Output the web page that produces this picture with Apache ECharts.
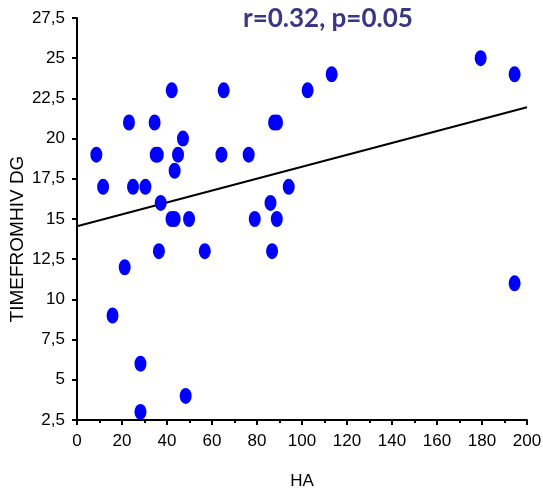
<!DOCTYPE html>
<html>
<head>
<meta charset="utf-8">
<script src="https://cdn.jsdelivr.net/npm/echarts@6/dist/echarts.min.js"></script>
<style>
  html, body { margin: 0; padding: 0; background: #fff; }
  #chart { width: 543px; height: 494px; }
</style>
</head>
<body>
<div id="chart"></div>
<script>
// HA (x) and time from HIV diagnosis (y)
const haValues = [8.6, 11.6, 15.8, 21.2, 23.1, 24.9, 28.2, 28.2, 30.4, 34.5, 35, 35.9, 36.4, 37.2,
  42.1, 42, 43.4, 43.4, 44.9, 47.1, 48.3, 49.8, 56.8, 64.2, 65.2, 76.3, 79, 86, 86.7, 87.6,
  88.9, 88.8, 94.1, 102.5, 113.2, 179.4, 194.5, 194.5]
const timeValues = [19, 17, 9, 12, 21, 17, 6, 3, 17, 21, 19, 19, 13, 16,
  23, 15, 15, 18, 19, 20, 4, 15, 13, 19, 23, 19, 15, 16, 13, 21,
  21, 15, 17, 23, 24, 25, 24, 11]

// fitted line, ends
const fitX = [0, 200]
const fitY = [14.55, 21.95]

const yTicks = { min: 2.5, max: 27.5, step: 2.5 }
const xTicks = { min: 0, max: 200, step: 20 }

const myChart = echarts.init(document.getElementById('chart'))

const points = haValues.map((x, i) => [x, timeValues[i]])
const fitLine = fitX.map((x, i) => [x, fitY[i]])

const labelFont = {
  fontFamily: 'Liberation Sans',
  fontSize: 17,
  color: '#000'
}

const option = {
  animation: false,
  title: {
    text: 'r=0.32, p=0.05',
    left: 238,
    top: 4,
    padding: [2, 5, 5, 5],
    textStyle: {
      fontFamily: 'Lato',
      fontWeight: 'bold',
      fontSize: 26,
      color: '#3b3785'
    }
  },
  grid: {
    left: 77,
    right: 16,
    top: 18,
    bottom: 74,
    containLabel: false,
    outerBoundsMode: 'none'
  },
  xAxis: {
    type: 'value',
    min: xTicks.min,
    max: xTicks.max,
    interval: xTicks.step,
    name: 'HA',
    nameLocation: 'middle',
    nameGap: 53,
    nameMoveOverlap: false,
    nameTextStyle: labelFont,
    axisLine: { show: true, lineStyle: { color: '#000', width: 2 } },
    axisTick: { show: true, length: 5, lineStyle: { color: '#000', width: 2 } },
    minorTick: { show: true, splitNumber: 2, length: 3, lineStyle: { color: '#000', width: 2 } },
    splitLine: { show: false },
    axisLabel: Object.assign({ margin: 13 }, labelFont)
  },
  yAxis: {
    type: 'value',
    min: yTicks.min,
    max: yTicks.max,
    interval: yTicks.step,
    name: 'TIMEFROMHIV DG',
    nameLocation: 'middle',
    nameGap: 50,
    nameMoveOverlap: false,
    nameTextStyle: {
      fontFamily: 'Liberation Sans',
      fontSize: 19,
      color: '#000',
      padding: [0, 40, 0, 0]
    },
    axisLine: { show: true, lineStyle: { color: '#000', width: 2 } },
    axisTick: { show: true, length: 5, lineStyle: { color: '#000', width: 2 } },
    splitLine: { show: false },
    axisLabel: Object.assign({
      margin: 12,
      formatter: v => String(v).replace('.', ',')
    }, labelFont)
  },
  series: [
    {
      type: 'line',
      data: fitLine,
      showSymbol: false,
      silent: true,
      lineStyle: { color: '#000', width: 2 },
      z: 1
    },
    {
      type: 'scatter',
      data: points,
      symbol: 'path://M50,0A50,50 0 1,1 49.9,0Z',
      symbolSize: [12, 16],
      itemStyle: { color: '#0000ff', opacity: 1 },
      z: 2
    }
  ]
}
myChart.setOption(option)
</script>
</body>
</html>
